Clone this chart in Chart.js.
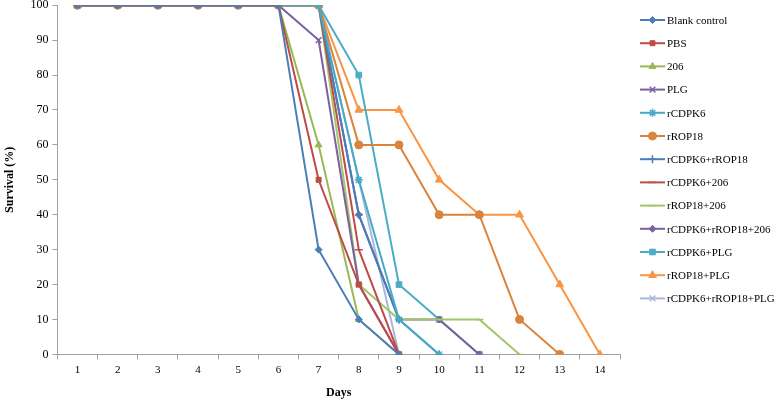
<!DOCTYPE html>
<html><head><meta charset="utf-8">
<script src="https://cdn.jsdelivr.net/npm/chart.js@4/dist/chart.umd.min.js"></script>
<style>html,body{margin:0;padding:0;background:#fff;overflow:hidden}#wrap{width:778px;height:402px;position:relative;overflow:hidden}#c{position:absolute;left:0;top:-6px}</style>
</head><body><div id="wrap"><canvas id="c" width="778" height="408"></canvas></div>
<script>
const days = ['1','2','3','4','5','6','7','8','9','10','11','12','13','14'];
const seriesNames = ['Blank control','PBS','206','PLG','rCDPK6','rROP18','rCDPK6+rROP18','rCDPK6+206','rROP18+206','rCDPK6+rROP18+206','rCDPK6+PLG','rROP18+PLG','rCDPK6+rROP18+PLG'];
const blankControl = [100,100,100,100,100,100,30,10,0];
const pbs = [100,100,100,100,100,100,50,20,0];
const s206 = [100,100,100,100,100,100,60,10,0];
const plg = [100,100,100,100,100,100,90,20,0];
const rCDPK6 = [100,100,100,100,100,100,100,50,10,0];
const rROP18 = [100,100,100,100,100,100,100,60,60,40,40,10,0];
const rCDPK6_rROP18 = [100,100,100,100,100,100,100,40,10,0];
const rCDPK6_206 = [100,100,100,100,100,100,100,30,0];
const rROP18_206 = [100,100,100,100,100,100,100,20,10,10,10,0];
const rCDPK6_rROP18_206 = [100,100,100,100,100,100,100,40,10,10,0];
const rCDPK6_PLG = [100,100,100,100,100,100,100,80,20,10,0];
const rROP18_PLG = [100,100,100,100,100,100,100,70,70,50,40,40,20,0];
const rCDPK6_rROP18_PLG = [100,100,100,100,100,100,100,50,0];
const yTicks = [0,10,20,30,40,50,60,70,80,90,100];

const allData = [blankControl,pbs,s206,plg,rCDPK6,rROP18,rCDPK6_rROP18,rCDPK6_206,rROP18_206,rCDPK6_rROP18_206,rCDPK6_PLG,rROP18_PLG,rCDPK6_rROP18_PLG];
const colors = ['#4A7EBB','#BE4B48','#98B954','#7D60A0','#46AAC5','#D9833C','#4A7EBB','#BE4B48','#A2C46A','#7D60A0','#4BACC6','#F79646','#A5B8DB'];
const styles = ['rectRot','rect','triangle','crossRot','star','circle','cross','line','line','rectRot','rect','triangle','crossRot'];
const radii = [3.5,3.5,4,4,4,4,4,4,4,3.5,4,4.5,4];

const datasets = seriesNames.map((n,i)=>({
  label:n, data:allData[i], borderColor:colors[i], backgroundColor:colors[i],
  borderWidth:2, pointStyle:styles[i], pointRadius:radii[i], pointBorderWidth:(styles[i]==='crossRot'||styles[i]==='cross'||styles[i]==='star'||styles[i]==='line')?1.5:1,
  tension:0, fill:false
}));

const legendPlugin = {
  id:'customLegend',
  afterDraw(chart){
    const ctx = chart.ctx;
    const x0 = 640, y0 = 26, dy = 23.2;
    ctx.save();
    chart.data.datasets.forEach((ds,i)=>{
      const y = y0 + i*dy;
      ctx.strokeStyle = ds.borderColor; ctx.lineWidth = 2;
      ctx.beginPath(); ctx.moveTo(x0,y); ctx.lineTo(x0+25,y); ctx.stroke();
      ctx.fillStyle = ds.backgroundColor; ctx.strokeStyle = ds.borderColor; ctx.lineWidth = ds.pointBorderWidth;
      Chart.helpers.drawPoint(ctx,{pointStyle:ds.pointStyle,radius:ds.pointRadius,rotation:0,borderWidth:ds.pointBorderWidth},x0+12.5,y);
      ctx.fillStyle = '#000'; ctx.font = '11px "Liberation Serif"'; ctx.textBaseline='middle';
      ctx.fillText(ds.label, x0+27, y+1);
    });
    ctx.restore();
  }
};

new Chart(document.getElementById('c'),{
  type:'line',
  data:{labels:days, datasets},
  options:{
    responsive:false, animation:false,
    layout:{padding:{left:3,right:158,top:0,bottom:2}},
    plugins:{legend:{display:false},tooltip:{enabled:false}},
    scales:{
      x:{offset:true,
        grid:{offset:true,drawOnChartArea:false,color:'#A0A0A0',tickLength:5,tickColor:'#A0A0A0'},
        border:{color:'#A0A0A0'},
        ticks:{color:'#000',font:{family:'Liberation Serif',size:11},padding:4,maxRotation:0},
        title:{display:true,text:'Days',color:'#000',font:{family:'Liberation Serif',size:12,weight:'bold'},padding:{top:5,bottom:0}}
      },
      y:{min:0,max:100,
        afterBuildTicks(a){a.ticks = yTicks.map(v=>({value:v}));},
        grid:{drawOnChartArea:false,color:'#A0A0A0',tickLength:5,tickColor:'#A0A0A0'},
        border:{color:'#A0A0A0'},
        ticks:{color:'#000',font:{family:'Liberation Serif',size:12},padding:4},
        title:{display:true,text:'Survival (%)',color:'#000',font:{family:'Liberation Serif',size:12,weight:'bold'},padding:{top:0,bottom:9}}
      }
    }
  },
  plugins:[legendPlugin]
});
</script></body></html>
